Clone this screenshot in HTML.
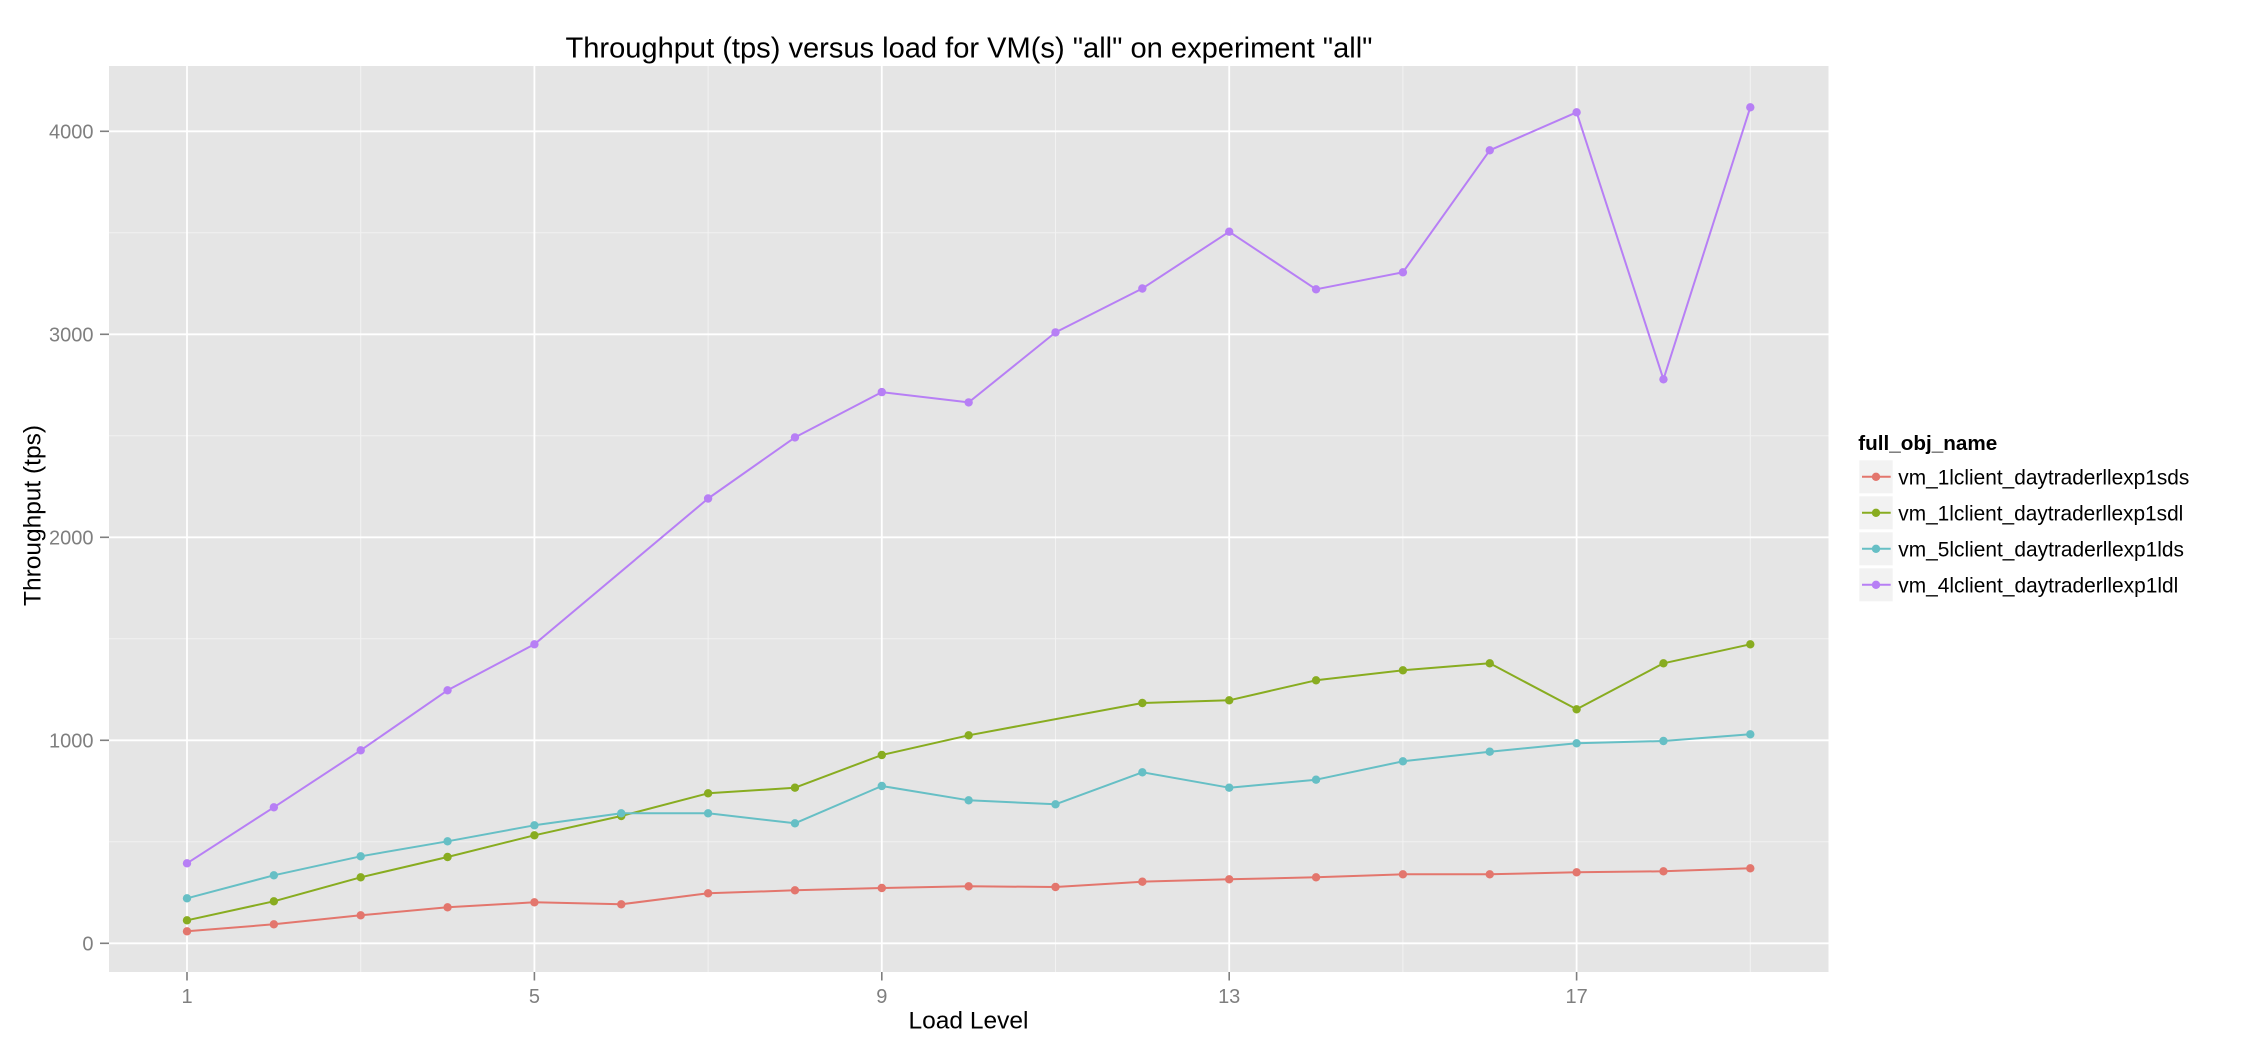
<!DOCTYPE html>
<html>
<head>
<meta charset="utf-8">
<style>
  html, body { margin: 0; padding: 0; background: #ffffff; }
  svg { display: block; }
  text { font-family: "Liberation Sans", Arial, sans-serif; }
</style>
</head>
<body>
<svg width="2250" height="1050" viewBox="0 0 2250 1050" xmlns="http://www.w3.org/2000/svg">
  <rect x="0" y="0" width="2250" height="1050" fill="#ffffff"/>

  <!-- Title -->
  <text x="969" y="57.5" font-size="29" text-anchor="middle" fill="#000" textLength="807" lengthAdjust="spacingAndGlyphs">Throughput (tps) versus load for VM(s) "all" on experiment "all"</text>

  <!-- Panel -->
  <rect x="109" y="66" width="1719.5" height="906" fill="#E5E5E5"/>

  <!-- minor gridlines -->
  <g stroke="#F2F2F2" stroke-width="1">
    <line x1="109" x2="1828.5" y1="841.8" y2="841.8"/>
    <line x1="109" x2="1828.5" y1="638.8" y2="638.8"/>
    <line x1="109" x2="1828.5" y1="435.8" y2="435.8"/>
    <line x1="109" x2="1828.5" y1="232.8" y2="232.8"/>
    <line y1="66" y2="972" x1="360.7" x2="360.7"/>
    <line y1="66" y2="972" x1="708.1" x2="708.1"/>
    <line y1="66" y2="972" x1="1055.5" x2="1055.5"/>
    <line y1="66" y2="972" x1="1402.9" x2="1402.9"/>
    <line y1="66" y2="972" x1="1750.3" x2="1750.3"/>
  </g>
  <!-- major gridlines -->
  <g stroke="#FFFFFF" stroke-width="1.8">
    <line x1="109" x2="1828.5" y1="943.3" y2="943.3"/>
    <line x1="109" x2="1828.5" y1="740.3" y2="740.3"/>
    <line x1="109" x2="1828.5" y1="537.3" y2="537.3"/>
    <line x1="109" x2="1828.5" y1="334.3" y2="334.3"/>
    <line x1="109" x2="1828.5" y1="131.3" y2="131.3"/>
    <line y1="66" y2="972" x1="187" x2="187"/>
    <line y1="66" y2="972" x1="534.4" x2="534.4"/>
    <line y1="66" y2="972" x1="881.8" x2="881.8"/>
    <line y1="66" y2="972" x1="1229.2" x2="1229.2"/>
    <line y1="66" y2="972" x1="1576.6" x2="1576.6"/>
  </g>

  <!-- series lines -->
  <g fill="none" stroke-width="2" stroke-linejoin="round">
    <polyline stroke="#E3766D" points="187,931.3 273.85,924.3 360.7,915.3 447.55,907.3 534.4,902.3 621.25,904.3 708.1,893.3 794.95,890.3 881.8,888 968.65,886.3 1055.5,887 1142.35,881.7 1229.2,879.3 1316.05,877.3 1402.9,874.3 1489.75,874.3 1576.6,872.3 1663.45,871.3 1750.3,868.3"/>
    <polyline stroke="#88AC20" points="187,920.3 273.85,901.3 360.7,877.3 447.55,857 534.4,835.3 621.25,816 708.1,793.3 794.95,787.7 881.8,755 968.65,735.3 1142.35,703 1229.2,700.3 1316.05,680.3 1402.9,670.3 1489.75,663.3 1576.6,709.3 1663.45,663.3 1750.3,644.3"/>
    <polyline stroke="#66BFC5" points="187,898.3 273.85,875.3 360.7,856.3 447.55,841.3 534.4,825.3 621.25,813.3 708.1,813.3 794.95,823.3 881.8,786 968.65,800.3 1055.5,804.3 1142.35,772.3 1229.2,787.7 1316.05,779.7 1402.9,761.3 1489.75,751.7 1576.6,743.3 1663.45,741 1750.3,734.3"/>
    <polyline stroke="#B77FF5" points="187,863.3 273.85,807.3 360.7,750.3 447.55,690.3 534.4,644.3 708.1,498.5 794.95,437.4 881.8,392.1 968.65,402.4 1055.5,332.4 1142.35,288.5 1229.2,231.7 1316.05,289.3 1402.9,272.3 1489.75,150.3 1576.6,112.3 1663.45,379.3 1750.3,107.3"/>
  </g>

  <!-- points -->
  <g fill="#E3766D">
    <circle cx="187" cy="931.3" r="4.2"/><circle cx="273.85" cy="924.3" r="4.2"/><circle cx="360.7" cy="915.3" r="4.2"/><circle cx="447.55" cy="907.3" r="4.2"/><circle cx="534.4" cy="902.3" r="4.2"/><circle cx="621.25" cy="904.3" r="4.2"/><circle cx="708.1" cy="893.3" r="4.2"/><circle cx="794.95" cy="890.3" r="4.2"/><circle cx="881.8" cy="888" r="4.2"/><circle cx="968.65" cy="886.3" r="4.2"/><circle cx="1055.5" cy="887" r="4.2"/><circle cx="1142.35" cy="881.7" r="4.2"/><circle cx="1229.2" cy="879.3" r="4.2"/><circle cx="1316.05" cy="877.3" r="4.2"/><circle cx="1402.9" cy="874.3" r="4.2"/><circle cx="1489.75" cy="874.3" r="4.2"/><circle cx="1576.6" cy="872.3" r="4.2"/><circle cx="1663.45" cy="871.3" r="4.2"/><circle cx="1750.3" cy="868.3" r="4.2"/>
  </g>
  <g fill="#88AC20">
    <circle cx="187" cy="920.3" r="4.2"/><circle cx="273.85" cy="901.3" r="4.2"/><circle cx="360.7" cy="877.3" r="4.2"/><circle cx="447.55" cy="857" r="4.2"/><circle cx="534.4" cy="835.3" r="4.2"/><circle cx="621.25" cy="816" r="4.2"/><circle cx="708.1" cy="793.3" r="4.2"/><circle cx="794.95" cy="787.7" r="4.2"/><circle cx="881.8" cy="755" r="4.2"/><circle cx="968.65" cy="735.3" r="4.2"/><circle cx="1142.35" cy="703" r="4.2"/><circle cx="1229.2" cy="700.3" r="4.2"/><circle cx="1316.05" cy="680.3" r="4.2"/><circle cx="1402.9" cy="670.3" r="4.2"/><circle cx="1489.75" cy="663.3" r="4.2"/><circle cx="1576.6" cy="709.3" r="4.2"/><circle cx="1663.45" cy="663.3" r="4.2"/><circle cx="1750.3" cy="644.3" r="4.2"/>
  </g>
  <g fill="#66BFC5">
    <circle cx="187" cy="898.3" r="4.2"/><circle cx="273.85" cy="875.3" r="4.2"/><circle cx="360.7" cy="856.3" r="4.2"/><circle cx="447.55" cy="841.3" r="4.2"/><circle cx="534.4" cy="825.3" r="4.2"/><circle cx="621.25" cy="813.3" r="4.2"/><circle cx="708.1" cy="813.3" r="4.2"/><circle cx="794.95" cy="823.3" r="4.2"/><circle cx="881.8" cy="786" r="4.2"/><circle cx="968.65" cy="800.3" r="4.2"/><circle cx="1055.5" cy="804.3" r="4.2"/><circle cx="1142.35" cy="772.3" r="4.2"/><circle cx="1229.2" cy="787.7" r="4.2"/><circle cx="1316.05" cy="779.7" r="4.2"/><circle cx="1402.9" cy="761.3" r="4.2"/><circle cx="1489.75" cy="751.7" r="4.2"/><circle cx="1576.6" cy="743.3" r="4.2"/><circle cx="1663.45" cy="741" r="4.2"/><circle cx="1750.3" cy="734.3" r="4.2"/>
  </g>
  <g fill="#B77FF5">
    <circle cx="187" cy="863.3" r="4.2"/><circle cx="273.85" cy="807.3" r="4.2"/><circle cx="360.7" cy="750.3" r="4.2"/><circle cx="447.55" cy="690.3" r="4.2"/><circle cx="534.4" cy="644.3" r="4.2"/><circle cx="708.1" cy="498.5" r="4.2"/><circle cx="794.95" cy="437.4" r="4.2"/><circle cx="881.8" cy="392.1" r="4.2"/><circle cx="968.65" cy="402.4" r="4.2"/><circle cx="1055.5" cy="332.4" r="4.2"/><circle cx="1142.35" cy="288.5" r="4.2"/><circle cx="1229.2" cy="231.7" r="4.2"/><circle cx="1316.05" cy="289.3" r="4.2"/><circle cx="1402.9" cy="272.3" r="4.2"/><circle cx="1489.75" cy="150.3" r="4.2"/><circle cx="1576.6" cy="112.3" r="4.2"/><circle cx="1663.45" cy="379.3" r="4.2"/><circle cx="1750.3" cy="107.3" r="4.2"/>
  </g>

  <!-- axis ticks -->
  <g stroke="#7F7F7F" stroke-width="1.6">
    <line x1="100" x2="109" y1="943.3" y2="943.3"/>
    <line x1="100" x2="109" y1="740.3" y2="740.3"/>
    <line x1="100" x2="109" y1="537.3" y2="537.3"/>
    <line x1="100" x2="109" y1="334.3" y2="334.3"/>
    <line x1="100" x2="109" y1="131.3" y2="131.3"/>
    <line y1="972" y2="980.5" x1="187" x2="187"/>
    <line y1="972" y2="980.5" x1="534.4" x2="534.4"/>
    <line y1="972" y2="980.5" x1="881.8" x2="881.8"/>
    <line y1="972" y2="980.5" x1="1229.2" x2="1229.2"/>
    <line y1="972" y2="980.5" x1="1576.6" x2="1576.6"/>
  </g>

  <!-- y tick labels -->
  <g font-size="20" fill="#7F7F7F" text-anchor="end">
    <text x="93.5" y="950.5">0</text>
    <text x="93.5" y="747.5">1000</text>
    <text x="93.5" y="544.5">2000</text>
    <text x="93.5" y="341.5">3000</text>
    <text x="93.5" y="138.5">4000</text>
  </g>
  <!-- x tick labels -->
  <g font-size="20" fill="#7F7F7F" text-anchor="middle">
    <text x="187" y="1003">1</text>
    <text x="534.4" y="1003">5</text>
    <text x="881.8" y="1003">9</text>
    <text x="1229.2" y="1003">13</text>
    <text x="1576.6" y="1003">17</text>
  </g>

  <!-- axis titles -->
  <text x="968.5" y="1028.3" font-size="24.5" text-anchor="middle" fill="#000" textLength="120" lengthAdjust="spacingAndGlyphs">Load Level</text>
  <text transform="translate(40.7,515.5) rotate(-90)" x="0" y="0" font-size="24.5" text-anchor="middle" fill="#000" textLength="181" lengthAdjust="spacingAndGlyphs">Throughput (tps)</text>

  <!-- Legend -->
  <text x="1858.3" y="450" font-size="20.7" font-weight="bold" fill="#000" textLength="139" lengthAdjust="spacingAndGlyphs">full_obj_name</text>

  <g fill="#F2F2F2">
    <rect x="1859.3" y="460.3" width="33.4" height="33"/>
    <rect x="1859.3" y="496.3" width="33.4" height="33"/>
    <rect x="1859.3" y="532.3" width="33.4" height="33"/>
    <rect x="1859.3" y="568.3" width="33.4" height="33"/>
  </g>
  <g stroke-width="2">
    <line x1="1862" x2="1890.7" y1="476.8" y2="476.8" stroke="#E3766D"/>
    <line x1="1862" x2="1890.7" y1="512.8" y2="512.8" stroke="#88AC20"/>
    <line x1="1862" x2="1890.7" y1="548.8" y2="548.8" stroke="#66BFC5"/>
    <line x1="1862" x2="1890.7" y1="584.8" y2="584.8" stroke="#B77FF5"/>
  </g>
  <circle cx="1876" cy="476.8" r="4.2" fill="#E3766D"/>
  <circle cx="1876" cy="512.8" r="4.2" fill="#88AC20"/>
  <circle cx="1876" cy="548.8" r="4.2" fill="#66BFC5"/>
  <circle cx="1876" cy="584.8" r="4.2" fill="#B77FF5"/>

  <g font-size="20.8" fill="#000">
    <text x="1898.3" y="484.3" textLength="291" lengthAdjust="spacingAndGlyphs">vm_1lclient_daytraderllexp1sds</text>
    <text x="1898.3" y="520.3" textLength="285" lengthAdjust="spacingAndGlyphs">vm_1lclient_daytraderllexp1sdl</text>
    <text x="1898.3" y="556.3" textLength="285.7" lengthAdjust="spacingAndGlyphs">vm_5lclient_daytraderllexp1lds</text>
    <text x="1898.3" y="592.3" textLength="280" lengthAdjust="spacingAndGlyphs">vm_4lclient_daytraderllexp1ldl</text>
  </g>
</svg>
</body>
</html>
